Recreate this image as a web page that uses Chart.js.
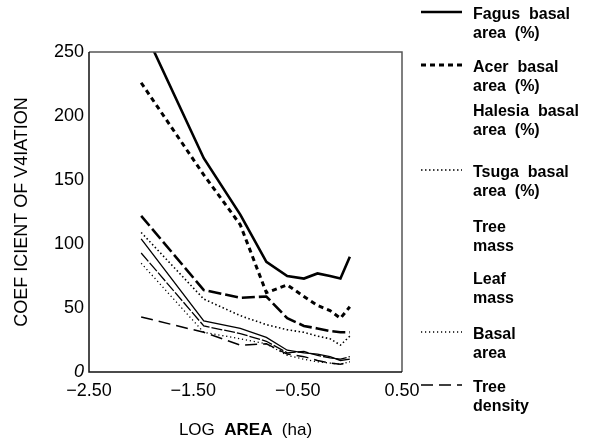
<!DOCTYPE html>
<html><head><meta charset="utf-8">
<script src="https://cdn.jsdelivr.net/npm/chart.js@4/dist/chart.umd.min.js"></script>
<style>html,body{margin:0;padding:0;background:#fff}</style>
</head><body>
<canvas id="c" width="597" height="444" style="display:block;width:597px;height:444px"></canvas>
<script>
// ---- data ----
const logArea     = [-2.0, -1.4, -1.05, -0.8, -0.6, -0.44, -0.31, -0.19, -0.09, 0];
const fagus       = [272, 167, 123, 86, 75, 73, 77, 75, 73, 90];
const acer        = [226, 154, 115, 62, 68, 59, 52, 48, 42, 51];
const halesia     = [122, 64, 58, 59, 42, 36, 34, 32, 31, 31];
const tsuga       = [109, 57, 44, 37, 33, 31, 28, 26, 21, 28];
const treeMass    = [104, 40, 34, 27, 17, 15, 14, 12, 9, 10];
const leafMass    = [93, 36, 30, 24, 15, 16, 13, 11, 10, 12];
const basalArea   = [85, 31, 26, 22, 13, 10, 8, 7, 6, 8];
const treeDensity = [43, 31, 21, 22, 14, 12, 9, 7, 6, 8];
const xTicks = [-2.5, -1.5, -0.5, 0.5];
const yTicks = [0, 50, 100, 150, 200, 250];
const legendLabels = [
  ['Fagus  basal', 'area  (%)'],
  ['Acer  basal', 'area  (%)'],
  ['Halesia  basal', 'area  (%)'],
  ['Tsuga  basal', 'area  (%)'],
  ['Tree', 'mass'],
  ['Leaf', 'mass'],
  ['Basal', 'area'],
  ['Tree', 'density']
];
const yTitle = 'COEF ICIENT OF V4IATION';

const pts = arr => arr.map((v, i) => ({x: logArea[i], y: v}));
const styles = [
  {w: 2.6, dash: [], sample: true},
  {w: 3, dash: [5, 4], sample: true},
  {w: 2.6, dash: [13, 4], sample: false},
  {w: 1.6, dash: [1.5, 2.5], sample: true},
  {w: 1.3, dash: [], sample: false},
  {w: 1.3, dash: [11, 2], sample: false},
  {w: 1.3, dash: [1.2, 2.8], sample: true},
  {w: 1.5, dash: [12, 6], sample: true}
];
const series = [fagus, acer, halesia, tsuga, treeMass, leafMass, basalArea, treeDensity];

const datasets = series.map((s, i) => ({
  label: legendLabels[i].join(' '),
  data: pts(s),
  borderColor: '#000',
  borderWidth: styles[i].w,
  borderDash: styles[i].dash,
  pointRadius: 0,
  fill: false,
  tension: 0
}));

const F = 'Arial, "Liberation Sans", Helvetica, sans-serif';

const boxPlugin = {
  id: 'box',
  afterDraw(chart) {
    const {ctx, chartArea: a} = chart;
    ctx.save();
    ctx.lineWidth = 1.5;
    ctx.strokeStyle = '#555';
    ctx.beginPath();
    ctx.moveTo(a.left, a.top); ctx.lineTo(a.right, a.top); ctx.lineTo(a.right, a.bottom);
    ctx.stroke();
    ctx.strokeStyle = '#111';
    ctx.beginPath();
    ctx.moveTo(a.left, a.top); ctx.lineTo(a.left, a.bottom); ctx.lineTo(a.right, a.bottom);
    ctx.stroke();
    // x title with bold AREA
    ctx.fillStyle = '#000';
    ctx.textBaseline = 'middle';
    const parts = [['LOG  ', 'normal'], ['AREA', 'bold'], ['  (ha)', 'normal']];
    let total = 0;
    parts.forEach(p => { ctx.font = p[1] + ' 17px ' + F; total += ctx.measureText(p[0]).width; });
    let x = (a.left + a.right) / 2 - total / 2;
    const ty = 430;
    parts.forEach(p => { ctx.font = p[1] + ' 17px ' + F; ctx.fillText(p[0], x, ty); x += ctx.measureText(p[0]).width; });
    // legend
    const ys = [15, 68, 112, 173, 228, 280, 335, 388];
    ctx.font = 'bold 16px ' + F;
    ctx.strokeStyle = '#000';
    chart.data.datasets.forEach((ds, i) => {
      const y = ys[i];
      if (styles[i].sample) {
        ctx.beginPath();
        ctx.setLineDash(styles[i].dash);
        ctx.lineWidth = styles[i].w;
        ctx.moveTo(421, y - 3);
        ctx.lineTo(462, y - 3);
        ctx.stroke();
      }
      ctx.setLineDash([]);
      legendLabels[i].forEach((t, j) => ctx.fillText(t, 473, y + j * 19));
    });
    ctx.restore();
  }
};

new Chart(document.getElementById('c'), {
  type: 'line',
  data: {datasets},
  options: {
    responsive: false,
    animation: false,
    layout: {padding: {left: 0, top: 52, right: 195, bottom: 0}},
    plugins: {legend: {display: false}, tooltip: {enabled: false}},
    scales: {
      x: {
        type: 'linear', min: -2.5, max: 0.5,
        afterBuildTicks: s => { s.ticks = xTicks.map(v => ({value: v})); },
        afterFit: s => { s.height = 72; },
        grid: {display: false, drawTicks: false}, border: {display: false},
        ticks: {
          color: '#000', padding: 8, maxRotation: 0,
          font: {family: F, size: 18},
          callback: v => (v < 0 ? '\u2212' : '') + Math.abs(v).toFixed(2)
        }
      },
      y: {
        min: 0, max: 250,
        afterBuildTicks: s => { s.ticks = yTicks.map(v => ({value: v})); },
        afterFit: s => { s.width = 89; },
        grid: {display: false, drawTicks: false}, border: {display: false},
        title: {display: true, text: yTitle, color: '#000', font: {family: F, size: 18}, padding: {top: 11, bottom: 0}},
        ticks: {
          color: '#000', padding: 5,
          font: ctx => ({family: F, size: 18, style: ctx.tick && ctx.tick.value === 0 ? 'italic' : 'normal'})
        }
      }
    }
  },
  plugins: [boxPlugin]
});
</script>
</body></html>
